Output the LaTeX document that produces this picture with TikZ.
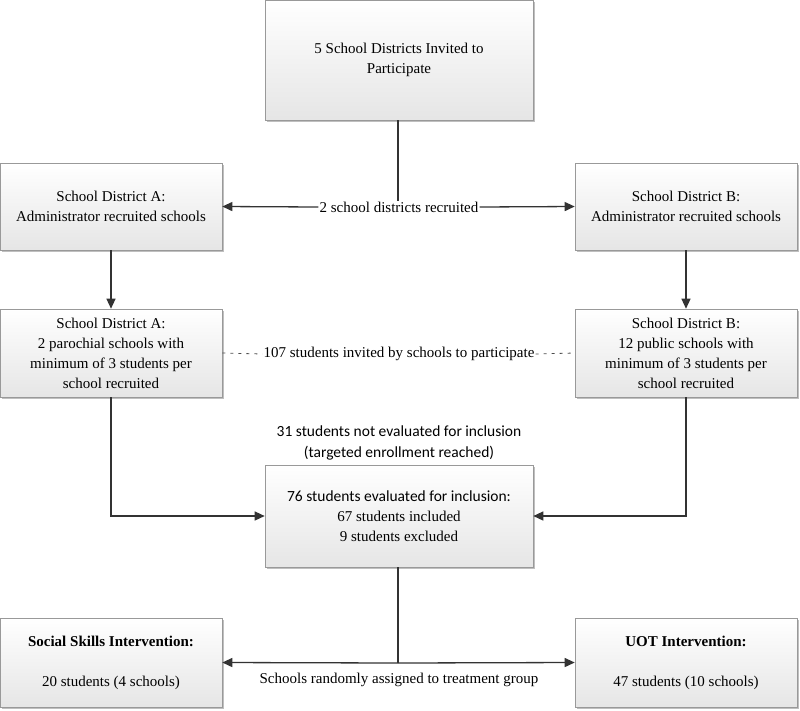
\documentclass[tikz,border=0pt]{standalone}
\usepackage{fontspec}
\newfontfamily\tms{LiberationSerif}[Extension=.ttf, UprightFont=*-Regular, BoldFont=*-Bold]
\newfontfamily\calib{Carlito}
\usetikzlibrary{arrows.meta,shadows}
\begin{document}
\begin{tikzpicture}[x=1pt,y=-1pt,
  box/.style={draw=black!40, line width=0.6pt, top color=white, bottom color=black!10,
    drop shadow={shadow xshift=2pt, shadow yshift=-2pt, fill=black, opacity=0.25},
    align=center, inner sep=2pt, font=\tms\fontsize{15}{20}\selectfont},
  lbl/.style={align=center, inner sep=1pt, font=\tms\fontsize{15}{20}\selectfont},
  conn/.style={draw=black!80, line width=1.3pt},
  arr/.style={conn, -{Triangle[length=10pt,width=9pt]}},
  dsh/.style={draw=black!70, line width=0.8pt, dash pattern=on 3pt off 5pt}]
\useasboundingbox (0,0) rectangle (800,710);
\node[box, minimum width=268pt, minimum height=120pt] (top) at (399,60) {5 School Districts Invited to\\Participate};
\node[box, minimum width=222pt, minimum height=87pt] (a1) at (111,206.5) {School District A:\\Administrator recruited schools};
\node[box, minimum width=222pt, minimum height=87pt] (b1) at (686,206.5) {School District B:\\Administrator recruited schools};
\node[box, minimum width=222pt, minimum height=88pt] (a2) at (111,353) {School District A:\\2 parochial schools with\\minimum of 3 students per\\school recruited};
\node[box, minimum width=222pt, minimum height=88pt] (b2) at (686,353) {School District B:\\12 public schools with\\minimum of 3 students per\\school recruited};
\node[box, minimum width=268pt, minimum height=102pt] (c) at (399,516) {{\calib\fontsize{15.5}{20}\selectfont 76 students evaluated for inclusion:}\\67 students included\\9 students excluded};
\node[box, minimum width=222pt, minimum height=89pt] (d) at (111,662.5) {\textbf{Social Skills Intervention:}\\[20pt]20 students (4 schools)};
\node[box, minimum width=222pt, minimum height=89pt] (e) at (686,662.5) {\textbf{UOT Intervention:}\\[20pt]47 students (10 schools)};
\node[lbl] (l1) at (399,207) {2 school districts recruited};
\node[lbl] (l2) at (399,354) {107 students invited by schools to participate};
\node[lbl, font=\calib\fontsize{15.5}{21}\selectfont] (l3) at (399,442.5) {31 students not evaluated for inclusion\\(targeted enrollment reached)};
\node[lbl] (l4) at (399,680) {Schools randomly assigned to treatment group};
\coordinate (split) at (398,663);
\draw[conn] (top.south -| 398,0) -- (l1.north -| 398,0);
\draw[arr] (l1.west) -- (a1.east);
\draw[arr] (l1.east) -- (b1.west);
\draw[arr] (a1.south) -- (a2.north);
\draw[arr] (b1.south) -- (b2.north);
\draw[dsh] (a2.east) -- (l2.west);
\draw[dsh] (l2.east) -- (b2.west);
\draw[arr] (a2.south) |- (c.west);
\draw[arr] (b2.south) |- (c.east);
\draw[conn] (c.south -| split) -- (split);
\draw[arr] (split) -- (d.east);
\draw[arr] (split) -- (e.west);
\end{tikzpicture}
\end{document}
